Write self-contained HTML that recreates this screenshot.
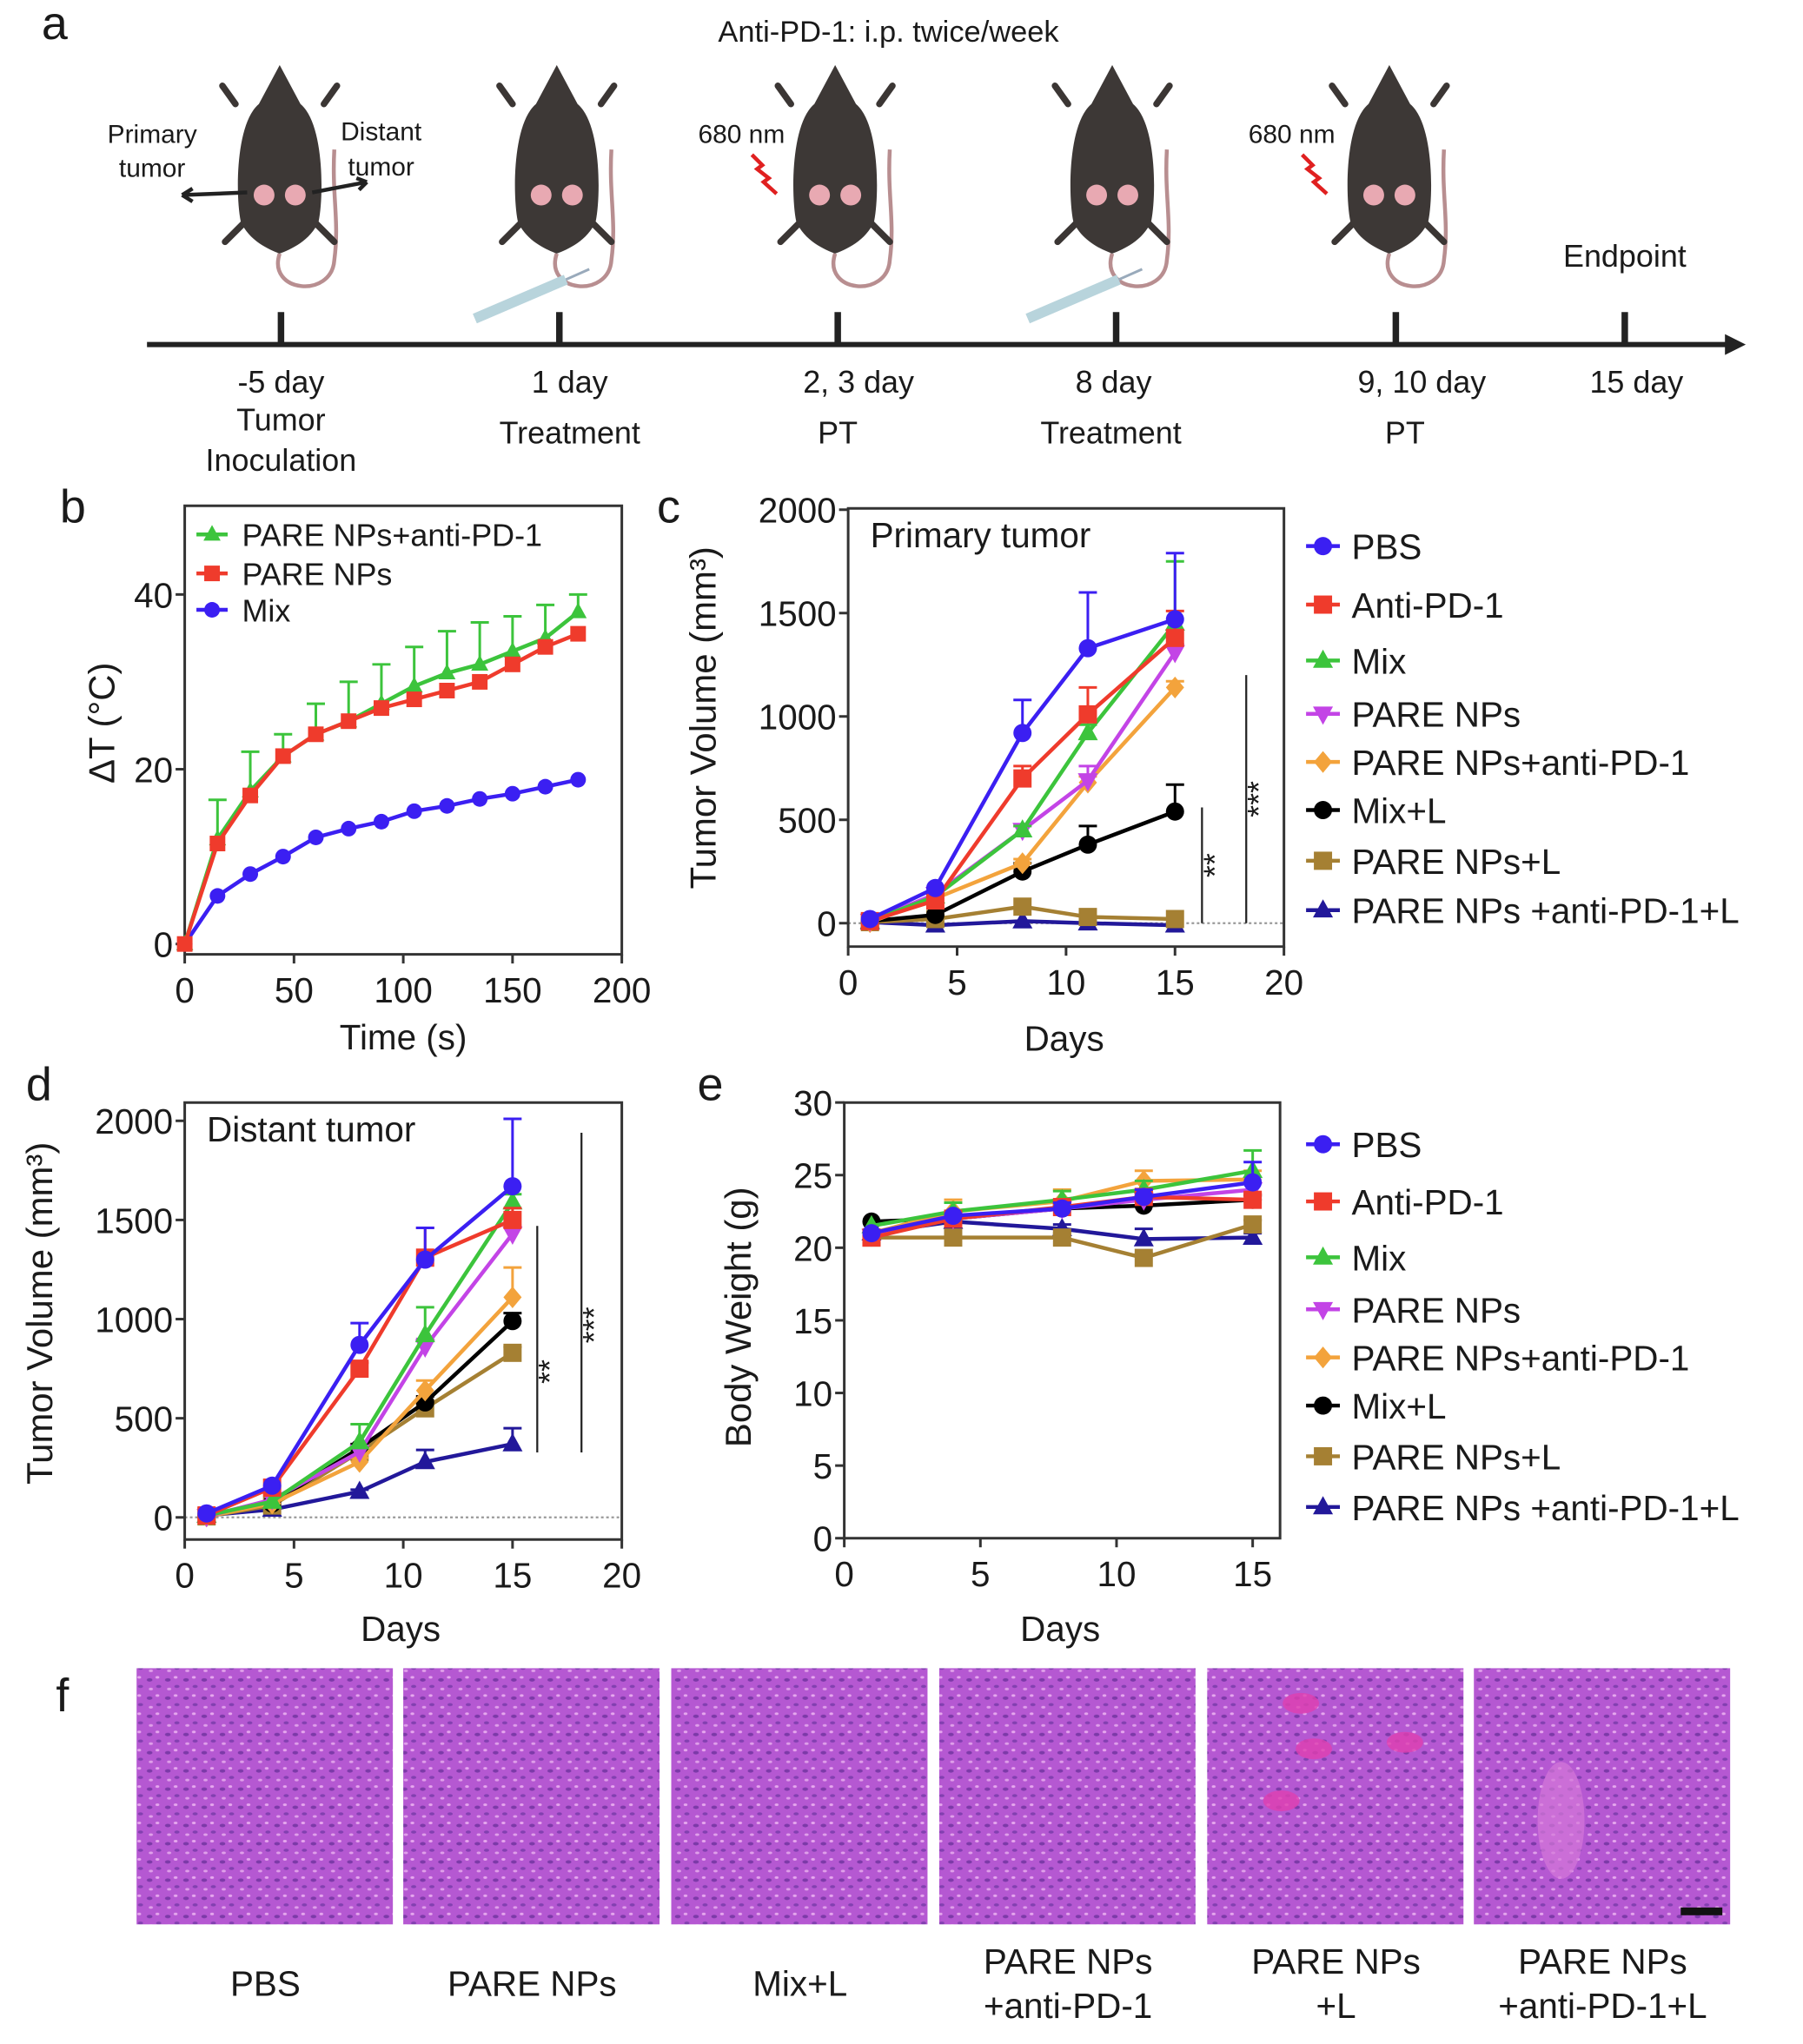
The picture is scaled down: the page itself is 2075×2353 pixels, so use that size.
<!DOCTYPE html>
<html><head><meta charset="utf-8"><title>Figure</title>
<style>html,body{margin:0;padding:0;background:#fff}svg{display:block}text{font-family:"Liberation Sans",sans-serif;fill:#1a1a1a}</style>
</head><body>
<svg id="fig" xmlns="http://www.w3.org/2000/svg" width="2075" height="2353" viewBox="0 0 1386 1572" preserveAspectRatio="none">
<defs>
<pattern id="tissue" width="14" height="14" patternUnits="userSpaceOnUse">
<rect width="14" height="14" fill="#b558d2"/>
<ellipse cx="3" cy="4" rx="2.2" ry="1.3" fill="#7c3aa8"/>
<ellipse cx="10" cy="9" rx="2" ry="1.2" fill="#8240b0"/>
<ellipse cx="9" cy="2" rx="1.5" ry="1" fill="#e6a8ee"/>
<ellipse cx="4" cy="11" rx="1.6" ry="1" fill="#e0a0ea"/>
</pattern>
</defs>
<g id="panelA"></g>
<g id="panelB"></g>
<g id="panelC"></g>
<g id="panelD"></g>
<g id="panelE"></g>
<g id="panelF"></g>
</svg>
<script>
// ---------- data ----------
const bTimes = [0,15,30,45,60,75,90,105,120,135,150,165,180];
const bGreen = [0,12,17.5,21.5,24,25.5,27.5,29.5,31,32,33.5,35,38];
const bGreenErr = [0,4.5,4.5,2.5,3.5,4.5,4.5,4.5,4.8,4.8,4,3.8,2];
const bRed = [0,11.5,17,21.5,24,25.5,27,28,29,30,32,34,35.5];
const bBlue = [0,5.5,8,10,12.2,13.2,14,15.2,15.8,16.6,17.2,18,18.8];
const bXTicks = [0,50,100,150,200];
const bYTicks = [0,20,40];

const days = [1,4,8,11,15];
const groupNames = ["PBS","Anti-PD-1","Mix","PARE NPs","PARE NPs+anti-PD-1","Mix+L","PARE NPs+L","PARE NPs +anti-PD-1+L"];
const cPBS = [20,170,920,1330,1470];
const cAnti = [10,110,700,1010,1380];
const cMix = [10,130,450,920,1450];
const cPare = [10,140,450,690,1310];
const cPareAnti = [5,120,290,680,1140];
const cMixL = [10,40,250,380,540];
const cPareL = [5,20,80,30,20];
const cPareAntiL = [5,-10,10,0,-10];
const cErr = [[0,0,160,270,320],[0,0,60,130,130],[0,0,20,40,300],[0,0,20,70,40],[0,0,20,30,30],[0,0,40,90,130],[0,0,0,0,0],[0,0,0,0,0]];

const dPBS = [20,160,870,1300,1670];
const dAnti = [10,150,750,1310,1500];
const dMix = [10,80,380,920,1590];
const dPare = [5,90,330,860,1430];
const dPareAnti = [5,70,280,640,1110];
const dMixL = [10,70,350,580,990];
const dPareL = [5,60,330,550,830];
const dPareAntiL = [10,40,130,280,370];
const dErr = [[0,0,110,160,340],[0,0,30,150,60],[0,0,90,140,40],[0,0,30,40,40],[0,0,20,50,150],[0,0,20,30,40],[0,0,20,20,30],[0,0,10,60,80]];

const ePBS = [21,22.2,22.7,23.5,24.5];
const eAnti = [20.7,22,22.8,23.5,23.3];
const eMix = [21.5,22.5,23.3,24,25.3];
const ePare = [20.8,22,22.7,23.3,24];
const ePareAnti = [21,22.5,23.2,24.6,24.7];
const eMixL = [21.8,22,22.7,22.9,23.3];
const ePareL = [20.7,20.7,20.7,19.3,21.6];
const ePareAntiL = [21,21.8,21.3,20.6,20.7];
const eErr = [[0,0,0.4,0.5,1.4],[0,0,0.3,0.4,0.4],[0,0.6,0.6,0.6,1.4],[0,0,0.3,0.4,0.5],[0,0.8,0.8,0.7,0.6],[0,0,0.3,0.3,0.3],[0,0,0.3,0.3,0.3],[0,0,0.3,0.7,0.3]];

const tumorXTicks = [0,5,10,15,20];
const tumorYTicks = [0,500,1000,1500,2000];
const weightXTicks = [0,5,10,15];
const weightYTicks = [0,5,10,15,20,25,30];
const histLabels = [["PBS"],["PARE NPs"],["Mix+L"],["PARE NPs","+anti-PD-1"],["PARE NPs","+L"],["PARE NPs","+anti-PD-1+L"]];

const colors = ["#3b1ff2","#ef3b2c","#3cc43c","#c344e6","#f3a33c","#000000","#a58033","#22189a"];
const markers = ["circle","square","tri","tridown","diamond","circle","square","tri"];

// ---------- helpers ----------
const NS = "http://www.w3.org/2000/svg";
function mk(parent, tag, attrs, txt){
  const e = document.createElementNS(NS, tag);
  for (const k in attrs) e.setAttribute(k, attrs[k]);
  if (txt !== undefined) e.textContent = txt;
  parent.appendChild(e); return e;
}
function marker(g, type, x, y, r, col){
  let e;
  if (type==="circle") e = mk(g,"circle",{cx:x,cy:y,r:r,fill:col});
  else if (type==="square") e = mk(g,"rect",{x:x-r,y:y-r,width:2*r,height:2*r,fill:col});
  else if (type==="tri") e = mk(g,"polygon",{points:`${x},${y-r*1.2} ${x-r*1.1},${y+r*0.8} ${x+r*1.1},${y+r*0.8}`,fill:col});
  else if (type==="tridown") e = mk(g,"polygon",{points:`${x},${y+r*1.2} ${x-r*1.1},${y-r*0.8} ${x+r*1.1},${y-r*0.8}`,fill:col});
  else e = mk(g,"polygon",{points:`${x},${y-r*1.2} ${x-r},${y} ${x},${y+r*1.2} ${x+r},${y}`,fill:col});
  return e;
}
function axes(g, o){
  // o: left,right,top,bottom,sx,sy,xticks,yticks,frame
  const ax = mk(g,"path",{d:`M${o.left},${o.top} L${o.left},${o.bottom} L${o.right},${o.bottom} L${o.right},${o.top} Z`,fill:"none",stroke:"#333",'stroke-width':2});
  
  
  o.xticks.forEach(t=>{
    const x=o.sx(t);
    mk(g,"line",{x1:x,y1:o.bottom,x2:x,y2:o.bottom+7,stroke:"#333",'stroke-width':2});
    const tl = mk(g,"text",{x:x,y:o.bottom+37,'font-size':27,'text-anchor':'middle'},t);
    
    
  });
  o.yticks.forEach(t=>{
    const y=o.sy(t);
    mk(g,"line",{x1:o.left-7,y1:y,x2:o.left,y2:y,stroke:"#333",'stroke-width':2});
    const tl = mk(g,"text",{x:o.left-9,y:y+10,'font-size':27,'text-anchor':'end'},t);
    
    
  });
}
function series(g, xs, ys, errs, sx, sy, col, mtype, r, name){
  const sg = mk(g,"g",{});
  
  
  if (errs) xs.forEach((x,i)=>{
    if (errs[i]>0){
      const px=sx(x), y1=sy(ys[i]), y2=sy(ys[i]+errs[i]);
      mk(sg,"line",{x1:px,y1:y1,x2:px,y2:y2,stroke:col,'stroke-width':2});
      mk(sg,"line",{x1:px-7,y1:y2,x2:px+7,y2:y2,stroke:col,'stroke-width':2});
    }
  });
  mk(sg,"polyline",{points:xs.map((x,i)=>sx(x)+","+sy(ys[i])).join(" "),fill:"none",stroke:col,'stroke-width':3});
  xs.forEach((x,i)=>{ const m = marker(sg,mtype,sx(x),sy(ys[i]),r,col); });
}
function legend(g, x, ys, names, fs){
  names.forEach((n,i)=>{
    const lg = mk(g,"g",{});
    
    
    mk(lg,"line",{x1:x-13,y1:ys[i],x2:x+13,y2:ys[i],stroke:colors[i],'stroke-width':3});
    marker(lg,markers[i],x,ys[i],7,colors[i]);
    mk(lg,"text",{x:x+22,y:ys[i]+10,'font-size':fs},n);
  });
}
function label(g, x, y, txt, fs, name, rot, anchor){
  const t = mk(g,"text",{x:x,y:y,'font-size':fs,'text-anchor':anchor||'middle'},txt);
  if (rot) t.setAttribute('transform',`rotate(-90 ${x} ${y})`);
  
  
  return t;
}

// ---------- panel a ----------
const A = document.getElementById('panelA');
label(A,42,30,"a",36,"panel-label-a");
label(A,683,32,"Anti-PD-1: i.p. twice/week",23,"dosing-note");
const mouseX = [215,428,642,855,1068];
mouseX.forEach((cx,i)=>{
  const m = mk(A,"g",{});
  
  
  mk(m,"path",{d:`M${cx},195 C${cx-10},225 ${cx+40},230 ${cx+42},200 C${cx+46},170 ${cx+40},150 ${cx+42},115`,fill:"none",stroke:"#b88e90",'stroke-width':3});
  mk(m,"path",{d:`M${cx-34},80 l-10,-14 M${cx+34},80 l10,-14 M${cx-28},172 l-14,14 M${cx+28},172 l14,14`,stroke:"#3b3634",'stroke-width':5,'stroke-linecap':'round'});
  mk(m,"path",{d:`M${cx},50 L${cx+16},80 C${cx+34},95 ${cx+34},150 ${cx+30},170 C${cx+24},185 ${cx+8},192 ${cx},195 C${cx-8},192 ${cx-24},185 ${cx-30},170 C${cx-34},150 ${cx-34},95 ${cx-16},80 Z`,fill:"#3d3836"});
  mk(m,"circle",{cx:cx-12,cy:150,r:8,fill:"#e8a9b2"});
  mk(m,"circle",{cx:cx+12,cy:150,r:8,fill:"#e8a9b2"});
});
label(A,117,110,"Primary",20,"primary-tumor-label");
label(A,117,136,"tumor",20,"primary-tumor-label");
label(A,293,108,"Distant",20,"distant-tumor-label");
label(A,293,135,"tumor",20,"distant-tumor-label");
mk(A,"path",{d:"M190,148 L140,150 M140,150 l8,-5 M140,150 l8,5 M240,148 L282,140 M282,140 l-8,-3 M282,140 l-6,6",stroke:"#222",'stroke-width':3,fill:"none"});
[[570,103],[993,103]].forEach(p=>{
  label(A,p[0],p[1]+7,"680 nm",20,"laser-label");
  mk(A,"path",{d:`M${p[0]+8},${p[1]+16} l8,8 l-4,3 l9,7 l-4,3 l10,9`,stroke:"#e02020",'stroke-width':3,fill:"none"});
});
[[395,235],[820,235]].forEach(p=>{
  const s = mk(A,"g",{});
  
  
  mk(s,"line",{x1:p[0]-30,y1:p[1]+10,x2:p[0]+40,y2:p[1]-20,stroke:"#b8d4dc",'stroke-width':8});
  mk(s,"line",{x1:p[0]+40,y1:p[1]-20,x2:p[0]+58,y2:p[1]-28,stroke:"#9ab",'stroke-width':2});
});
mk(A,"line",{x1:113,y1:265,x2:1330,y2:265,stroke:"#222",'stroke-width':4});
mk(A,"polygon",{points:"1342,265 1326,257 1326,273",fill:"#222"});
const tlTicks=[216,430,644,858,1073,1249];
tlTicks.forEach(x=>mk(A,"line",{x1:x,y1:240,x2:x,y2:264,stroke:"#222",'stroke-width':5}));
label(A,216,302,"-5 day",24,"timeline-label");
label(A,216,331,"Tumor",24,"timeline-label");
label(A,216,362,"Inoculation",24,"timeline-label");
label(A,438,302,"1 day",24,"timeline-label");
label(A,438,341,"Treatment",24,"timeline-label");
label(A,660,302,"2, 3 day",24,"timeline-label");
label(A,644,341,"PT",24,"timeline-label");
label(A,856,302,"8 day",24,"timeline-label");
label(A,854,341,"Treatment",24,"timeline-label");
label(A,1093,302,"9, 10 day",24,"timeline-label");
label(A,1080,341,"PT",24,"timeline-label");
label(A,1258,302,"15 day",24,"timeline-label");
label(A,1249,205,"Endpoint",24,"endpoint-label");

// ---------- panel b ----------
const B = document.getElementById('panelB');
const bsx = t=>142+(t/200)*336, bsy = v=>726-v*6.72;
label(B,56,402,"b",36,"panel-label-b");
axes(B,{left:142,right:478,top:389,bottom:734,sx:bsx,sy:bsy,xticks:bXTicks,yticks:bYTicks});
series(B,bTimes,bBlue,null,bsx,bsy,colors[0],"circle",6,"series-mix");
series(B,bTimes,bGreen,bGreenErr,bsx,bsy,colors[2],"tri",6,"series-pare-nps-anti-pd-1");
series(B,bTimes,bRed,null,bsx,bsy,colors[1],"square",6,"series-pare-nps");
[["PARE NPs+anti-PD-1",colors[2],"tri",411],["PARE NPs",colors[1],"square",441],["Mix",colors[0],"circle",469]].forEach(l=>{
  const lg = mk(B,"g",{});
  
  
  mk(lg,"line",{x1:151,y1:l[3],x2:175,y2:l[3],stroke:l[1],'stroke-width':3});
  marker(lg,l[2],163,l[3],6,l[1]);
  mk(lg,"text",{x:186,y:l[3]+9,'font-size':24},l[0]);
});
label(B,310,807,"Time (s)",27,"x-axis-title");
label(B,88,556,"ΔT (°C)",28,"y-axis-title",true);

// ---------- panels c / d ----------
function tumorPanel(G, o, data, errs, letter, title, sig){
  label(G,o.lx,o.ly,letter,36,"panel-label-"+letter);
  mk(G,"line",{x1:o.left,y1:o.sy(0),x2:o.right,y2:o.sy(0),stroke:"#999",'stroke-width':1.5,'stroke-dasharray':'2,2'});
  axes(G,o);
  label(G,o.left+17,o.top+30,title,27,"chart-title",false,"start");
  for (let i=data.length-1;i>=0;i--) series(G,days,data[i],errs[i],o.sx,o.sy,colors[i],markers[i],7,"series-"+i);
  sig.forEach(s=>{
    mk(G,"line",{x1:s[0],y1:o.sy(s[1]),x2:s[0],y2:o.sy(0)+(s[3]||0),stroke:"#222",'stroke-width':1.5});
    label(G,s[0]+18,(o.sy(s[1])+o.sy(0))/2,s[2],24,"significance-marker",true);
  });
}
const C = document.getElementById('panelC');
const csx = d=>652+d*16.75, csy = v=>710-v*0.159;
tumorPanel(C,{left:652,right:987,top:391,bottom:728,sx:csx,sy:csy,xticks:tumorXTicks,yticks:tumorYTicks,lx:514,ly:402},
  [cPBS,cAnti,cMix,cPare,cPareAnti,cMixL,cPareL,cPareAntiL],cErr,"c","Primary tumor",[[924,560,"**"],[958,1200,"***"]]);
label(C,818,808,"Days",27,"x-axis-title");
label(C,550,552,"Tumor Volume (mm³)",28,"y-axis-title",true);
legend(C,1017,[420,465,508,549,586,623,662,700],groupNames,27);

const D = document.getElementById('panelD');
const dsx = d=>142+d*16.8, dsy = v=>1167-v*0.1525;
tumorPanel(D,{left:142,right:478,top:848,bottom:1184,sx:dsx,sy:dsy,xticks:tumorXTicks,yticks:tumorYTicks,lx:30,ly:846},
  [dPBS,dAnti,dMix,dPare,dPareAnti,dMixL,dPareL,dPareAntiL],dErr,"d","Distant tumor",[[413,1470,"**",-50],[447,1940,"***",-50]]);
label(D,308,1262,"Days",27,"x-axis-title");
label(D,40,1010,"Tumor Volume (mm³)",28,"y-axis-title",true);

// ---------- panel e ----------
const E = document.getElementById('panelE');
const esx = d=>649+d*20.93, esy = v=>1183-v*11.17;
label(E,546,846,"e",36,"panel-label-e");
axes(E,{left:649,right:984,top:848,bottom:1183,sx:esx,sy:esy,xticks:weightXTicks,yticks:weightYTicks});
const eData=[ePBS,eAnti,eMix,ePare,ePareAnti,eMixL,ePareL,ePareAntiL];
for (let i=eData.length-1;i>=0;i--) series(E,days,eData[i],eErr[i],esx,esy,colors[i],markers[i],7,"series-"+i);
label(E,815,1262,"Days",27,"x-axis-title");
label(E,577,1013,"Body Weight (g)",28,"y-axis-title",true);
legend(E,1017,[880,924,967,1007,1044,1081,1120,1159],groupNames,27);

// ---------- panel f ----------
const F = document.getElementById('panelF');
label(F,48,1316,"f",36,"panel-label-f");
const imgX=[105,310,516,722,928,1133];
imgX.forEach((x,i)=>{
  const r = mk(F,"rect",{x:x,y:1283,width:197,height:197,fill:"url(#tissue)"});
  
  
  const cx=x+99, ls=histLabels[i];
  if (ls.length===1) label(F,cx,1535,ls[0],27,"histology-label");
  else { label(F,cx,1518,ls[0],27,"histology-label"); label(F,cx,1552,ls[1],27,"histology-label"); }
});
[[1000,1310],[1010,1345],[985,1385],[1080,1340]].forEach(p=>mk(F,"ellipse",{cx:p[0],cy:p[1],rx:14,ry:8,fill:"#e040b0",opacity:0.8}));
mk(F,"ellipse",{cx:1200,cy:1400,rx:18,ry:45,fill:"#d478d8",opacity:0.7});
mk(F,"rect",{x:1292,y:1467,width:32,height:6,fill:"#111"});
</script>
</body></html>
